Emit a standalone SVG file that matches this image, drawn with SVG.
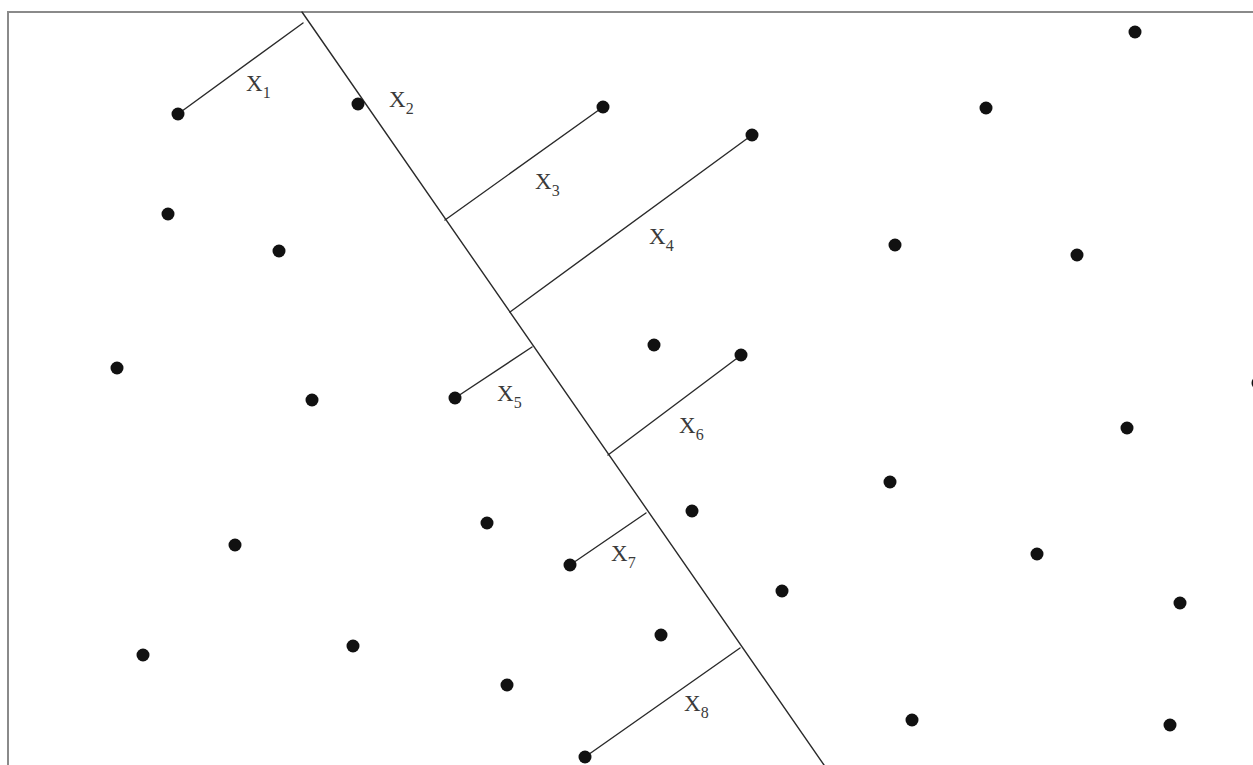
<svg xmlns="http://www.w3.org/2000/svg" width="1253" height="765" viewBox="0 0 1253 765">
<style>
.frame{stroke:#8a8a8a;stroke-width:2;fill:none}
.ln{stroke:#2a2a2a;stroke-width:1.4;fill:none;stroke-linecap:round}
.pt{fill:#111}
.lab{font-family:"Liberation Serif","DejaVu Serif",serif;font-size:23px;fill:#3a3a3a}
.sub{font-size:16px}
</style>
<rect width="1253" height="765" fill="#fff"/>
<g id="frame">
<path class="frame" d="M8,765 V12 H1253"/>
</g>
<g id="connectors">
<path class="ln" d="M302,12 L824,765"/>
<path class="ln" d="M178,114 L303,23"/>
<path class="ln" d="M445,220 L603,107"/>
<path class="ln" d="M510,312 L752,135"/>
<path class="ln" d="M455,398 L532,347"/>
<path class="ln" d="M608,455 L740,356"/>
<path class="ln" d="M570,565 L646,513"/>
<path class="ln" d="M585,757 L740,648"/>
</g>
<g id="labels">
<text class="lab" x="246" y="91">X<tspan class="sub" dy="7">1</tspan></text>
<text class="lab" x="389" y="107">X<tspan class="sub" dy="7">2</tspan></text>
<text class="lab" x="535" y="189">X<tspan class="sub" dy="7">3</tspan></text>
<text class="lab" x="649" y="244">X<tspan class="sub" dy="7">4</tspan></text>
<text class="lab" x="497" y="401">X<tspan class="sub" dy="7">5</tspan></text>
<text class="lab" x="679" y="433">X<tspan class="sub" dy="7">6</tspan></text>
<text class="lab" x="611" y="561">X<tspan class="sub" dy="7">7</tspan></text>
<text class="lab" x="684" y="711">X<tspan class="sub" dy="7">8</tspan></text>
</g>
<g id="points">
<g id="p1"><circle class="pt" cx="178" cy="114" r="6.5"/></g>
<g id="p2"><circle class="pt" cx="358" cy="104" r="6.5"/></g>
<g id="p3"><circle class="pt" cx="603" cy="107" r="6.5"/></g>
<g id="p4"><circle class="pt" cx="752" cy="135" r="6.5"/></g>
<g id="p5"><circle class="pt" cx="455" cy="398" r="6.5"/></g>
<g id="p6"><circle class="pt" cx="741" cy="355" r="6.5"/></g>
<g id="p7"><circle class="pt" cx="570" cy="565" r="6.5"/></g>
<g id="p8"><circle class="pt" cx="585" cy="757" r="6.5"/></g>
<g id="p9"><circle class="pt" cx="168" cy="214" r="6.5"/></g>
<g id="p10"><circle class="pt" cx="279" cy="251" r="6.5"/></g>
<g id="p11"><circle class="pt" cx="117" cy="368" r="6.5"/></g>
<g id="p12"><circle class="pt" cx="312" cy="400" r="6.5"/></g>
<g id="p13"><circle class="pt" cx="487" cy="523" r="6.5"/></g>
<g id="p14"><circle class="pt" cx="235" cy="545" r="6.5"/></g>
<g id="p15"><circle class="pt" cx="143" cy="655" r="6.5"/></g>
<g id="p16"><circle class="pt" cx="353" cy="646" r="6.5"/></g>
<g id="p17"><circle class="pt" cx="507" cy="685" r="6.5"/></g>
<g id="p18"><circle class="pt" cx="661" cy="635" r="6.5"/></g>
<g id="p19"><circle class="pt" cx="692" cy="511" r="6.5"/></g>
<g id="p20"><circle class="pt" cx="782" cy="591" r="6.5"/></g>
<g id="p21"><circle class="pt" cx="654" cy="345" r="6.5"/></g>
<g id="p22"><circle class="pt" cx="986" cy="108" r="6.5"/></g>
<g id="p23"><circle class="pt" cx="1135" cy="32" r="6.5"/></g>
<g id="p24"><circle class="pt" cx="895" cy="245" r="6.5"/></g>
<g id="p25"><circle class="pt" cx="1077" cy="255" r="6.5"/></g>
<g id="p26"><circle class="pt" cx="1127" cy="428" r="6.5"/></g>
<g id="p27"><circle class="pt" cx="890" cy="482" r="6.5"/></g>
<g id="p28"><circle class="pt" cx="1037" cy="554" r="6.5"/></g>
<g id="p29"><circle class="pt" cx="1180" cy="603" r="6.5"/></g>
<g id="p30"><circle class="pt" cx="912" cy="720" r="6.5"/></g>
<g id="p31"><circle class="pt" cx="1170" cy="725" r="6.5"/></g>
<g id="p32"><circle class="pt" cx="1258" cy="383" r="6.5"/></g>
</g>
</svg>
